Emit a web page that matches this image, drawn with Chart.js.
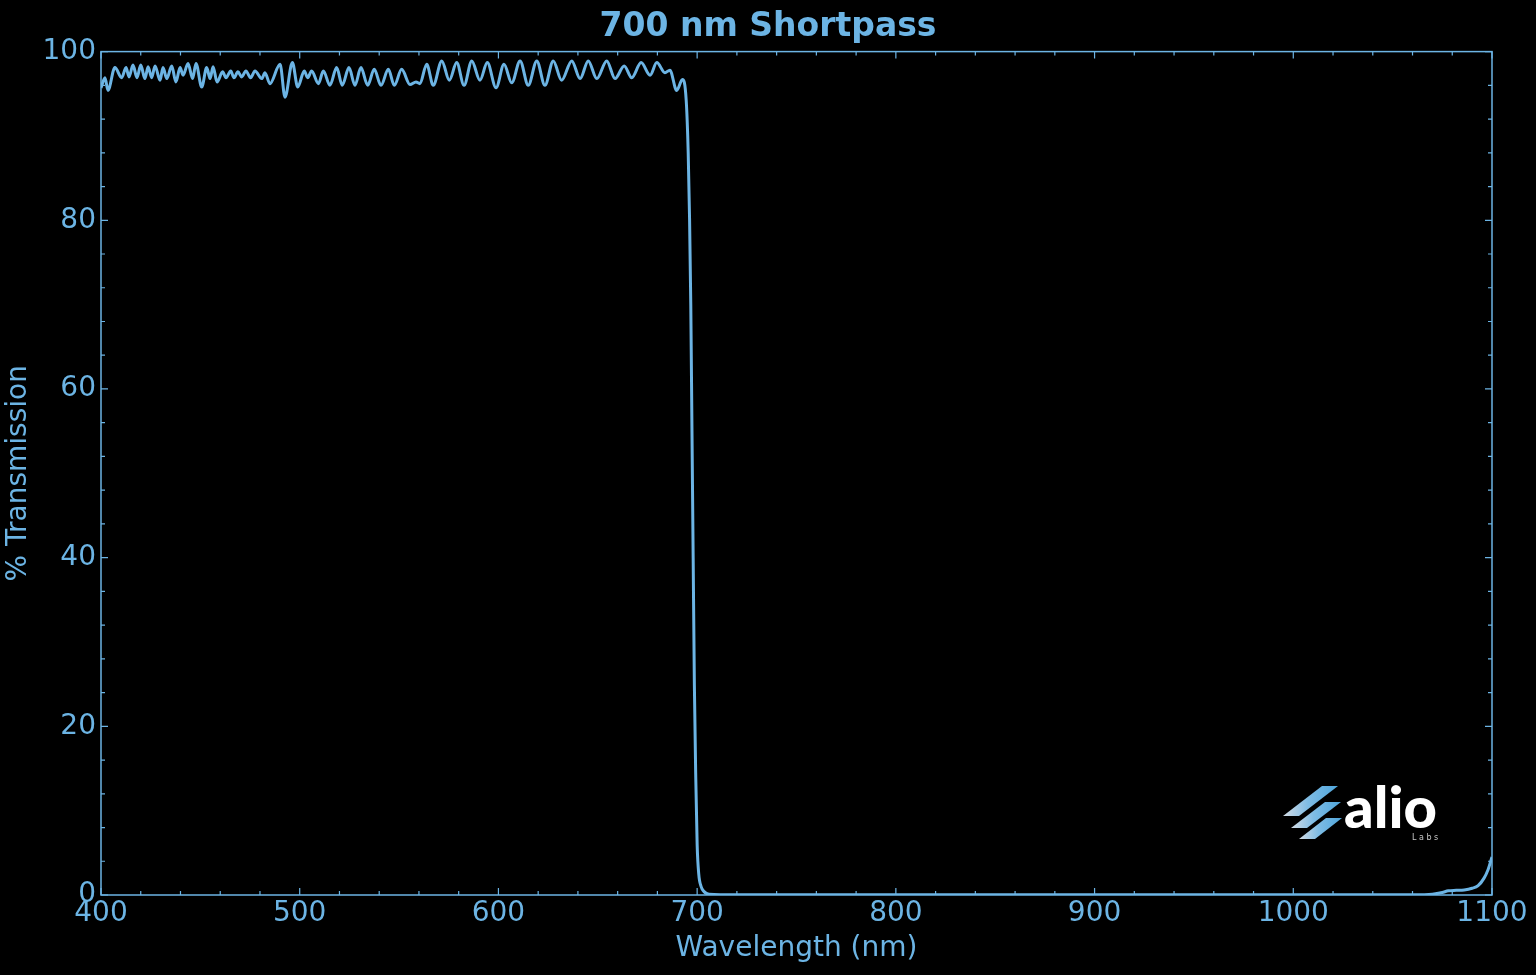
<!DOCTYPE html>
<html lang="en">
<head>
  <meta charset="UTF-8">
  <title>700 nm Shortpass</title>
  <script src="https://cdn.jsdelivr.net/npm/chart.js"></script>
  <style>
    body {
      margin: 0;
      background: #000;
    }
    #wrap {
      width: 1536px;
      height: 975px;
    }
  </style>
</head>
<body>
  <div id="wrap"><canvas id="filterChart"></canvas></div>

  <script>
    // wavelength (nm) and % transmission at each extremum
    const wavelengths = [
      400, 402, 403.5, 407, 410.4, 412.6, 414.1, 416.1, 418.1, 420, 422.1, 423.7, 425.5, 427.2,
      429.7, 431.2, 433.1, 435.6, 437.7, 439.8, 441.3, 443.8, 446.1, 447.8, 450.7, 453.2, 454.9,
      456.4, 458.4, 461.2, 462.9, 465.3, 466.9, 468.9, 470.8, 472.9, 475.3, 477.5, 480.9, 482.5,
      485, 490.1, 492.6, 496.3, 499, 502.3, 504, 506, 509.4, 511.9, 515.2, 518.6, 521.4, 524.8,
      527.8, 530.8, 534.2, 537.5, 540.9, 544.6, 547.6, 551.3, 555.5, 558.5, 560.5, 563.9, 567.2, 571.5,
      575.3, 579, 582.7, 586.6, 590.7, 594.4, 598.8, 602.8, 606.7, 610.9, 615, 619.3, 623.4,
      627.6, 631.8, 636.9, 641.1, 645.2, 649.5, 654.5, 658.7, 663.3, 667.1, 671.8, 676.3, 679.7,
      683.8, 686.3, 689.7, 692.6,
      694.5, 695.5, 696.2, 696.8, 697.4, 698, 698.6, 699.3, 700, 700.8, 702, 703.5, 706,
      720, 800, 900, 1000, 1060, 1070, 1075, 1078, 1082, 1086, 1090, 1093, 1096, 1098, 1100
    ];
    const transmission = [
      95.7, 96.9, 95.4, 98.1, 96.9, 98.1, 97.0, 98.4, 96.9, 98.4, 96.8, 98.2, 96.9, 98.3,
      96.6, 98.1, 96.8, 98.3, 96.4, 98.1, 97.2, 98.6, 96.8, 98.6, 95.8, 98.1, 96.8,
      98.2, 96.4, 97.6, 96.9, 97.7, 96.9, 97.6, 97.0, 97.7, 96.9, 97.7, 96.8, 97.5,
      96.2, 98.5, 94.6, 98.7, 95.8, 97.7, 96.9, 97.7, 96.2, 97.7, 96.0, 98.1, 96.0, 98.1,
      96.0, 98.1, 96.0, 97.9, 96.0, 97.9, 96.0, 97.9, 96.1, 96.4, 96.2, 98.5, 96.0, 98.9,
      96.6, 98.7, 96.0, 98.9, 96.6, 98.7, 95.7, 98.5, 96.3, 98.9, 96.0, 98.9, 96.0,
      98.9, 96.6, 98.9, 96.8, 98.9, 96.8, 98.9, 96.8, 98.3, 96.9, 98.7, 97.2, 98.7,
      97.5, 97.8, 95.4, 96.7,
      94.2, 88, 80, 70, 55, 40, 25, 14, 6, 2.5, 1, 0.4, 0.1,
      0.03, 0.02, 0.02, 0.02, 0.03, 0.1, 0.3, 0.5, 0.55, 0.6, 0.8, 1.1, 2.0, 3.0, 4.5
    ];

    const xTicks = [400, 500, 600, 700, 800, 900, 1000, 1100];
    const yTicks = [0, 20, 40, 60, 80, 100];
    const xMinorStep = 20;
    const yMinorStep = 4;

    const BLUE = '#6cb4e4';
    const FONT = "'DejaVu Sans', sans-serif";

    // frame with inward ticks on all four sides, plus the logo
    const framePlugin = {
      id: 'frame',
      afterDatasetsDraw(chart) {
        const { ctx, chartArea: a, scales: { x, y } } = chart;
        ctx.save();
        ctx.strokeStyle = BLUE;
        ctx.lineWidth = 1.5;
        ctx.strokeRect(a.left, a.top, a.right - a.left, a.bottom - a.top);

        ctx.lineWidth = 1.2;
        ctx.beginPath();
        for (let v = x.min; v <= x.max; v += xMinorStep) {
          const px = x.getPixelForValue(v);
          const len = xTicks.includes(v) ? 7 : 4;
          ctx.moveTo(px, a.bottom); ctx.lineTo(px, a.bottom - len);
          ctx.moveTo(px, a.top); ctx.lineTo(px, a.top + len);
        }
        for (let v = y.min; v <= y.max; v += yMinorStep) {
          const py = y.getPixelForValue(v);
          const len = yTicks.includes(v) ? 7 : 4;
          ctx.moveTo(a.left, py); ctx.lineTo(a.left + len, py);
          ctx.moveTo(a.right, py); ctx.lineTo(a.right - len, py);
        }
        ctx.stroke();

        // alio labs logo
        const stripes = [
          [[1283, 816], [1299, 816], [1338, 786], [1322, 786]],
          [[1291, 828], [1307, 828], [1341, 802], [1325, 802]],
          [[1299, 839], [1315, 839], [1342, 818], [1326, 818]]
        ];
        stripes.forEach(s => {
          const g = ctx.createLinearGradient(s[0][0], 0, s[2][0], 0);
          g.addColorStop(0, '#d5dde6');
          g.addColorStop(0.45, '#7fbce4');
          g.addColorStop(1, '#4fa6dc');
          ctx.fillStyle = g;
          ctx.beginPath();
          ctx.moveTo(s[0][0], s[0][1]);
          s.slice(1).forEach(p => ctx.lineTo(p[0], p[1]));
          ctx.closePath();
          ctx.fill();
        });
        ctx.fillStyle = '#ffffff';
        ctx.font = "900 58px Lato, 'Open Sans', sans-serif";
        ctx.textBaseline = 'alphabetic';
        ctx.textAlign = 'left';
        ctx.fillText('alio', 1344, 828);
        ctx.fillStyle = '#c8c8c8';
        ctx.font = "8px 'DejaVu Sans', sans-serif";
        ctx.fillText('L a b s', 1412, 840);
        ctx.restore();
      }
    };

    const points = wavelengths.map((w, i) => ({ x: w, y: transmission[i] }));

    new Chart(document.getElementById('filterChart'), {
      type: 'line',
      data: {
        datasets: [{
          label: 'Transmission',
          data: points,
          borderColor: BLUE,
          borderWidth: 3,
          pointRadius: 0,
          fill: false,
          cubicInterpolationMode: 'monotone'
        }]
      },
      options: {
        responsive: true,
        maintainAspectRatio: false,
        animation: false,
        layout: {
          padding: 0
        },
        plugins: {
          legend: { display: false },
          tooltip: { enabled: false },
          title: {
            display: true,
            text: '700 nm Shortpass',
            color: BLUE,
            font: { family: FONT, size: 33, weight: 'bold', lineHeight: 1.2 },
            padding: { top: 8, bottom: 4 }
          }
        },
        scales: {
          x: {
            type: 'linear',
            min: 400,
            max: 1100,
            afterFit: scale => { scale.height = 80; },
            afterBuildTicks: scale => { scale.ticks = xTicks.map(v => ({ value: v })); },
            grid: { display: false, drawTicks: false },
            border: { display: false },
            ticks: {
              color: BLUE,
              font: { family: FONT, size: 28 },
              padding: 2,
              maxRotation: 0,
              callback: v => String(v)
            },
            title: {
              display: true,
              text: 'Wavelength (nm)',
              color: BLUE,
              font: { family: FONT, size: 28 },
              padding: { top: 0, bottom: 9 }
            }
          },
          y: {
            min: 0,
            max: 100,
            afterFit: scale => { scale.width = 101; },
            afterBuildTicks: scale => { scale.ticks = yTicks.map(v => ({ value: v })); },
            grid: { display: false, drawTicks: false },
            border: { display: false },
            ticks: {
              color: BLUE,
              font: { family: FONT, size: 28 },
              padding: 5,
              callback: v => String(v)
            },
            title: {
              display: true,
              text: '% Transmission',
              color: BLUE,
              font: { family: FONT, size: 28 },
              padding: { top: 2, bottom: 0 }
            }
          },
          // empty right margin so the title stays centred on the whole canvas
          yRight: {
            position: 'right',
            min: 0,
            max: 100,
            afterFit: scale => { scale.width = 44; },
            grid: { display: false, drawTicks: false },
            border: { display: false },
            ticks: { display: false }
          }
        }
      },
      plugins: [framePlugin]
    });
  </script>
</body>
</html>
